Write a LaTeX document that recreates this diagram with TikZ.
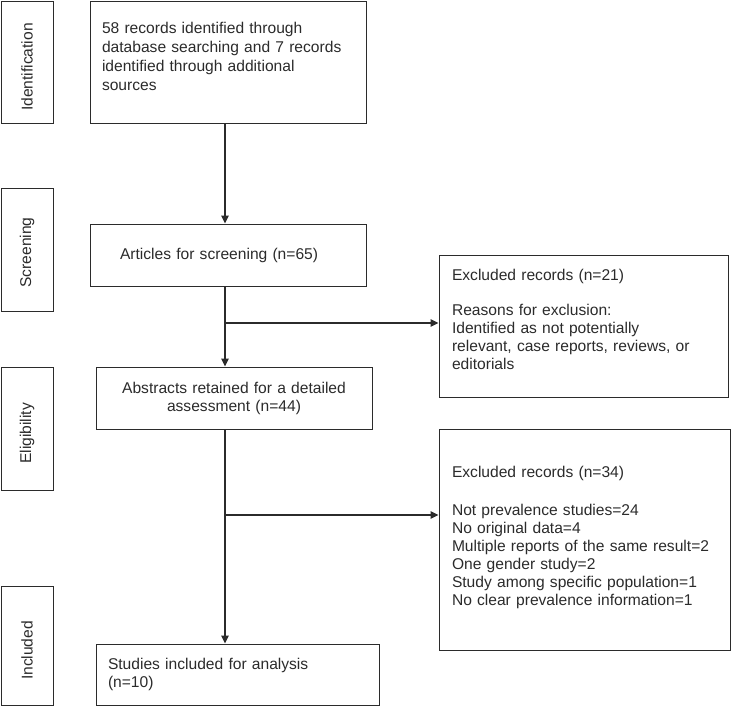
\documentclass[tikz,border=0pt]{standalone}
\usepackage{fontspec}
\setmainfont{Liberation Sans}
\usetikzlibrary{arrows.meta,calc,positioning}
\definecolor{inkgray}{HTML}{2B2B2B}
\newcommand{\flowfont}{\fontsize{15.6pt}{18pt}\selectfont}
\tikzset{
  stage/.style = {draw=inkgray, line width=1pt, rotate=90, minimum width=#1,
                  minimum height=52pt, inner sep=0pt, font=\flowfont, text=inkgray},
  box/.style   = {draw=inkgray, line width=1pt, font=\flowfont, align=left,
                  inner ysep=0pt, text=inkgray},
  flow/.style  = {-{Triangle[length=8pt,width=7.5pt]}, line width=1.2pt, draw=inkgray},
}

\begin{document}
\begin{tikzpicture}[x=1pt,y=-1pt]
  \useasboundingbox (0,0) rectangle (732,707);
  % stages on the left
  \node[stage=122pt] (idn) at (27,62)    {Identification\hspace*{10pt}};
  \node[stage=123pt] (scr) at (27,249.5) {Screening\hspace*{6pt}};
  \node[stage=123pt] (elg) at (27,428.5) {Eligibility\hspace*{10pt}};
  \node[stage=119pt] (inc) at (27,645.5) {Included\hspace*{10pt}};
  % main column
  \node[box, minimum height=122pt, text width=252pt, inner xsep=12pt,
        font=\fontsize{15.6pt}{19pt}\selectfont] (rec) at (228,62)
     {58 records identified through\\database searching and 7 records\\identified through additional\\sources\\[-8pt]\mbox{}};
  \node[box, minimum height=62pt, text width=216pt, inner xsep=30pt] (art) at (228,255)
     {Articles for screening (n=65)};
  \node[box, align=center, minimum height=62pt, text width=252pt, inner xsep=12pt] (abs) at (234,398)
     {Abstracts retained for a detailed\\assessment (n=44)};
  \node[box, minimum height=61pt, text width=259pt, inner xsep=12pt] (stu) at (237.5,674.5)
     {Studies included for analysis\\(n=10)};
  % exclusions
  \node[box, minimum height=142pt, text width=263pt, inner xsep=13pt] (ex1) at (583.5,326)
     {Excluded records (n=21)\\[17pt]Reasons for exclusion:\\Identified as not potentially\\relevant, case reports, reviews, or\\editorials\\[-5pt]\mbox{}};
  \node[box, minimum height=221pt, text width=265pt, inner xsep=13pt] (ex2) at (584.5,539.5)
     {Excluded records (n=34)\\[20pt]Not prevalence studies=24\\No original data=4\\Multiple reports of the same result=2\\One gender study=2\\Study among specific population=1\\No clear prevalence information=1\\[-11pt]\mbox{}};
  % connectors
  \coordinate (sp)  at (225,0);
  \coordinate (br1) at (225,323);
  \coordinate (br2) at (225,515);
  \draw[flow] (rec.south -| sp) -- (art.north -| sp);
  \draw[flow] (art.south -| sp) -- (abs.north -| sp);
  \draw[flow] (abs.south -| sp) -- (stu.north -| sp);
  \draw[flow] (br1) -- (br1 -| ex1.west);
  \draw[flow] (br2) -- (br2 -| ex2.west);
\end{tikzpicture}
\end{document}
